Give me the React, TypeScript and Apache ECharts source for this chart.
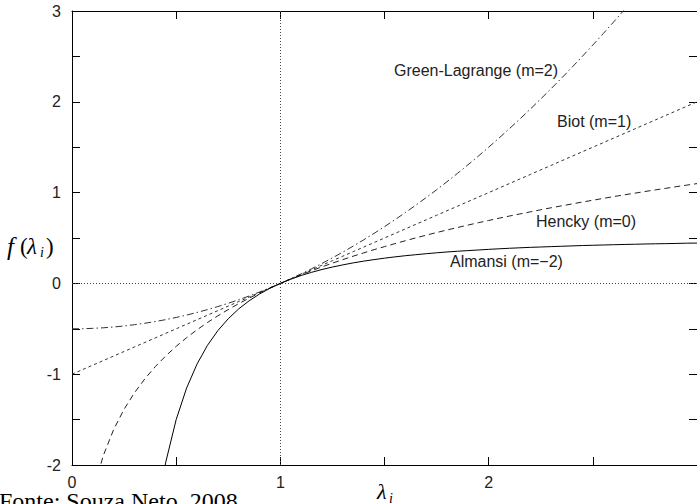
import React, { useEffect, useRef } from "react";
import * as echarts from "echarts";

// stretch λ (x values, step 0.05 from 0 to 3)
const LAMBDA = [
  0, 0.05, 0.1, 0.15, 0.2, 0.25, 0.3, 0.35, 0.4, 0.45,
  0.5, 0.55, 0.6, 0.65, 0.7, 0.75, 0.8, 0.85, 0.9, 0.95,
  1.0, 1.05, 1.1, 1.15, 1.2, 1.25, 1.3, 1.35, 1.4, 1.45,
  1.5, 1.55, 1.6, 1.65, 1.7, 1.75, 1.8, 1.85, 1.9, 1.95,
  2.0, 2.05, 2.1, 2.15, 2.2, 2.25, 2.3, 2.35, 2.4, 2.45,
  2.5, 2.55, 2.6, 2.65, 2.7, 2.75, 2.8, 2.85, 2.9, 2.95, 3.0,
];

// Green-Lagrange (m=2)
const GREEN_LAGRANGE = [
  -0.5, -0.499, -0.495, -0.489, -0.48, -0.469, -0.455, -0.439, -0.42, -0.399,
  -0.375, -0.349, -0.32, -0.289, -0.255, -0.219, -0.18, -0.139, -0.095, -0.049,
  0, 0.051, 0.105, 0.161, 0.22, 0.281, 0.345, 0.411, 0.48, 0.551,
  0.625, 0.701, 0.78, 0.861, 0.945, 1.031, 1.12, 1.211, 1.305, 1.401,
  1.5, 1.601, 1.705, 1.811, 1.92, 2.031, 2.145, 2.261, 2.38, 2.501,
  2.625, 2.751, 2.88, 3.011, 3.145, null, null, null, null, null, null,
];

// Biot (m=1)
const BIOT = [
  -1, -0.95, -0.9, -0.85, -0.8, -0.75, -0.7, -0.65, -0.6, -0.55,
  -0.5, -0.45, -0.4, -0.35, -0.3, -0.25, -0.2, -0.15, -0.1, -0.05,
  0, 0.05, 0.1, 0.15, 0.2, 0.25, 0.3, 0.35, 0.4, 0.45,
  0.5, 0.55, 0.6, 0.65, 0.7, 0.75, 0.8, 0.85, 0.9, 0.95,
  1.0, 1.05, 1.1, 1.15, 1.2, 1.25, 1.3, 1.35, 1.4, 1.45,
  1.5, 1.55, 1.6, 1.65, 1.7, 1.75, 1.8, 1.85, 1.9, 1.95, 2.0,
];

// Hencky (m=0)
const HENCKY = [
  null, null, -2.303, -1.897, -1.609, -1.386, -1.204, -1.05, -0.916, -0.799,
  -0.693, -0.598, -0.511, -0.431, -0.357, -0.288, -0.223, -0.163, -0.105, -0.051,
  0, 0.049, 0.095, 0.14, 0.182, 0.223, 0.262, 0.3, 0.336, 0.372,
  0.405, 0.438, 0.47, 0.501, 0.531, 0.56, 0.588, 0.615, 0.642, 0.668,
  0.693, 0.718, 0.742, 0.765, 0.788, 0.811, 0.833, 0.854, 0.875, 0.896,
  0.916, 0.936, 0.956, 0.975, 0.993, 1.012, 1.03, 1.047, 1.065, 1.082, 1.099,
];

// Almansi (m=-2)
const ALMANSI = [
  null, null, null, null, null, null, null, null, -2.625, -1.969,
  -1.5, -1.153, -0.889, -0.683, -0.52, -0.389, -0.281, -0.192, -0.117, -0.054,
  0, 0.046, 0.087, 0.122, 0.153, 0.18, 0.204, 0.226, 0.245, 0.262,
  0.278, 0.292, 0.305, 0.316, 0.327, 0.337, 0.346, 0.354, 0.361, 0.368,
  0.375, 0.381, 0.387, 0.392, 0.397, 0.401, 0.405, 0.409, 0.413, 0.417,
  0.42, 0.423, 0.426, 0.429, 0.431, 0.434, 0.436, 0.438, 0.44, 0.443, 0.444,
];

const SERIES_NAMES = ["Green-Lagrange (m=2)", "Biot (m=1)", "Hencky (m=0)", "Almansi (m=\u22122)"];

const pairs = (ys: (number | null)[]) =>
  LAMBDA.map((x, i) => [x, ys[i]]).filter((p) => p[1] !== null);

const SANS = "'Liberation Sans', Arial, sans-serif";
const SERIF = "'Liberation Serif', 'Times New Roman', serif";

const intLabel = (v: number) => (Math.abs(v - Math.round(v)) < 1e-9 ? String(Math.round(v)) : "");

function txt(text: string, x: number, y: number, font: string, fill = "#222") {
  return {
    type: "text",
    x,
    y,
    silent: true,
    style: { text, font, fill, align: "left", verticalAlign: "middle" },
  };
}

export default function App() {
  const ref = useRef<HTMLDivElement>(null);

  useEffect(() => {
    document.body.style.margin = "0";
    const chart = echarts.init(ref.current!, null, { renderer: "svg" });

    const axisCommon = {
      type: "value",
      interval: 0.5,
      axisLine: { show: true, onZero: false, lineStyle: { color: "#000", width: 1 } },
      axisTick: { show: true, inside: true, length: 8, lineStyle: { color: "#000", width: 1 } },
      splitLine: { show: false },
    };

    const labelStyle = { color: "#222", fontSize: 16, fontFamily: SANS, formatter: intLabel };

    const option = {
      animation: false,
      grid: { left: 72, top: 11, right: -7, bottom: 39, containLabel: false },
      xAxis: [
        { ...axisCommon, min: 0, max: 3, position: "bottom", axisLabel: { ...labelStyle, margin: 9, showMaxLabel: false } },
        { ...axisCommon, min: 0, max: 3, position: "top", axisLabel: { show: false } },
      ],
      yAxis: [
        { ...axisCommon, min: -2, max: 3, position: "left", axisLabel: { ...labelStyle, margin: 11 } },
        { ...axisCommon, min: -2, max: 3, position: "right", axisLabel: { show: false } },
      ],
      series: [
        {
          name: SERIES_NAMES[0],
          type: "line",
          data: pairs(GREEN_LAGRANGE),
          showSymbol: false,
          clip: true,
          lineStyle: { color: "#333", width: 1, type: [7, 3, 1.5, 3] },
          z: 3,
        },
        {
          name: SERIES_NAMES[1],
          type: "line",
          data: pairs(BIOT),
          showSymbol: false,
          clip: true,
          lineStyle: { color: "#333", width: 1, type: [3, 3] },
          z: 3,
          markLine: {
            silent: true,
            symbol: ["none", "none"],
            label: { show: false },
            lineStyle: { color: "#444", width: 1, type: [1, 2] },
            data: [{ yAxis: 0 }, { xAxis: 1 }],
            z: 1,
          },
        },
        {
          name: SERIES_NAMES[2],
          type: "line",
          data: pairs(HENCKY),
          showSymbol: false,
          clip: true,
          lineStyle: { color: "#222", width: 1, type: [6, 4] },
          z: 3,
        },
        {
          name: SERIES_NAMES[3],
          type: "line",
          data: pairs(ALMANSI),
          showSymbol: false,
          clip: true,
          lineStyle: { color: "#000", width: 1, type: "solid" },
          z: 3,
        },
      ],
      graphic: [
        txt(SERIES_NAMES[0], 394, 70, `16px ${SANS}`),
        txt(SERIES_NAMES[1], 557, 121, `16px ${SANS}`),
        txt(SERIES_NAMES[2], 536, 221, `16px ${SANS}`),
        txt(SERIES_NAMES[3], 450, 261, `16px ${SANS}`),
        // y-axis title f(λ_i)
        txt("f", 7, 246, `italic 25px ${SERIF}`, "#000"),
        txt("(", 20, 246, `23px ${SERIF}`, "#000"),
        txt("\u03bb", 27, 246, `italic 23px ${SERIF}`, "#000"),
        txt("i", 40, 252, `italic 14px ${SERIF}`, "#000"),
        txt(")", 46, 246, `23px ${SERIF}`, "#000"),
        // x-axis title λ_i
        txt("\u03bb", 377, 491, `italic 22px ${SERIF}`, "#000"),
        txt("i", 389, 498, `italic 14px ${SERIF}`, "#000"),
        // source note
        txt("Fonte: Souza Neto, 2008.", -1, 501, `24px ${SERIF}`, "#000"),
      ],
    };

    chart.setOption(option as any);
    return () => chart.dispose();
  }, []);

  return <div ref={ref} style={{ width: 697, height: 504 }} />;
}
